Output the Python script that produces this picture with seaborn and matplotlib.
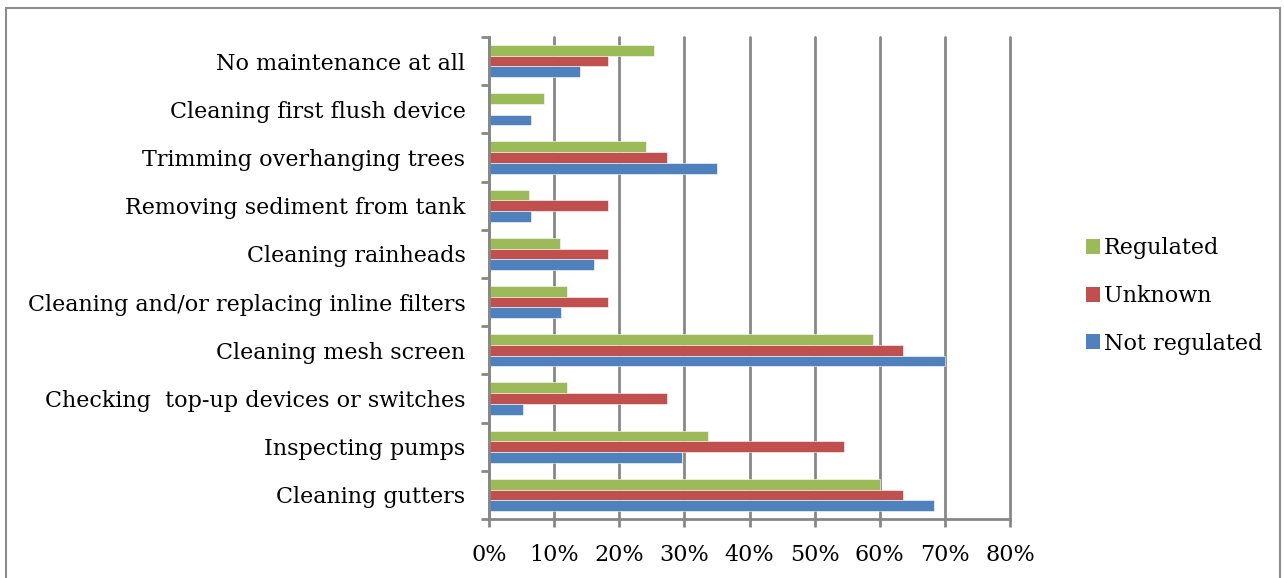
import numpy as np
import pandas as pd
import matplotlib
matplotlib.use("Agg")
import matplotlib.pyplot as plt
import seaborn as sns
from matplotlib.patches import Patch, Rectangle
from matplotlib.ticker import FixedLocator, PercentFormatter

# Data (percentages)
tasks = [
    "No maintenance at all",
    "Cleaning first flush device",
    "Trimming overhanging trees",
    "Removing sediment from tank",
    "Cleaning rainheads",
    "Cleaning and/or replacing inline filters",
    "Cleaning mesh screen",
    "Checking  top-up devices or switches",
    "Inspecting pumps",
    "Cleaning gutters",
]
regulated = [25.3, 8.5, 24.1, 6.1, 10.9, 12.0, 59.0, 12.0, 33.7, 60.1]
unknown = [18.2, 0.0, 27.3, 18.2, 18.2, 18.2, 63.6, 27.3, 54.5, 63.6]
not_regulated = [14.0, 6.5, 35.0, 6.5, 16.1, 11.1, 70.0, 5.2, 29.7, 68.3]
groups = ["Regulated", "Unknown", "Not regulated"]
colors = ["#9BBB59", "#C0504D", "#4F81BD"]

df = pd.DataFrame({"Task": tasks, "Regulated": regulated,
                   "Unknown": unknown, "Not regulated": not_regulated})
long_df = df.melt(id_vars="Task", var_name="Group", value_name="Pct")

sns.set_theme(style="white")
plt.rcParams["font.family"] = ["DejaVu Serif"]
plt.rcParams["text.color"] = "black"
plt.rcParams["xtick.labelcolor"] = "black"
plt.rcParams["ytick.labelcolor"] = "black"

fig = plt.figure(figsize=(12.84, 5.78), dpi=100)
ax = fig.add_axes([489 / 1284, 1 - 519 / 578, 521 / 1284, 482 / 578])

sns.barplot(data=long_df, y="Task", x="Pct", hue="Group", order=tasks,
            hue_order=groups, palette=colors, saturation=1, orient="h",
            width=0.667, gap=0, ax=ax, legend=False,
            edgecolor="white", linewidth=0.4)

grid_col = "#878787"
ax.set_xlim(0, 80)
ax.set_xticks(np.arange(0, 81, 10))
ax.xaxis.set_major_formatter(PercentFormatter(decimals=0))
ax.grid(axis="x", color=grid_col, linewidth=2)
for gl in ax.get_xgridlines():
    gl.set_clip_on(False)
ax.set_axisbelow(True)
ax.set_xlabel("")
ax.set_ylabel("")

for side in ["top", "right"]:
    ax.spines[side].set_visible(False)
for side in ["left", "bottom"]:
    ax.spines[side].set_color(grid_col)
    ax.spines[side].set_linewidth(2)

ax.tick_params(axis="x", which="major", length=6, width=2, color=grid_col,
               labelsize=16, pad=12, bottom=True, labelcolor="black")
ax.tick_params(axis="y", which="major", length=0, labelsize=16, pad=17,
               labelcolor="black")
ax.yaxis.set_minor_locator(FixedLocator(np.arange(-0.5, len(tasks), 1.0)))
ax.tick_params(axis="y", which="minor", length=6, width=2, color=grid_col, left=True)

handles = [Patch(facecolor=c, edgecolor="none") for c in colors]
leg = ax.legend(handles, groups, loc="center left",
                bbox_to_anchor=(1066 / 1284, 1 - 296 / 578),
                bbox_transform=fig.transFigure, frameon=False, fontsize=16,
                handlelength=0.65, handleheight=0.65, handletextpad=0.15,
                labelspacing=1.15)
for t in leg.get_texts():
    t.set_color("black")

fig.patches.append(Rectangle((6 / 1284, -0.01), 1274 / 1284, 1 - 8 / 578 + 0.01,
                             transform=fig.transFigure, fill=False,
                             edgecolor="#8c8c8c", linewidth=1.5))

fig.savefig("out.png", dpi=100)
